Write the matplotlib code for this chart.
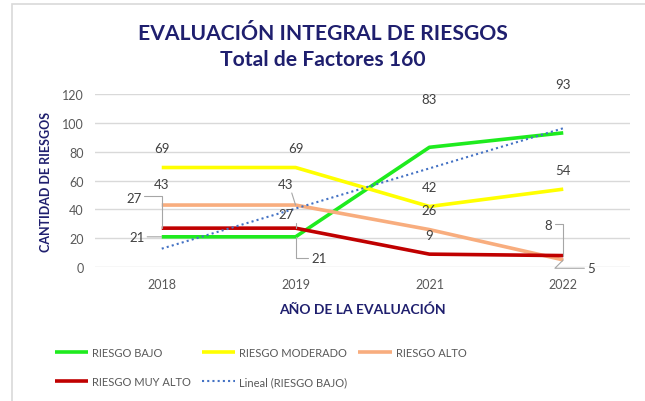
import numpy as np
import matplotlib
matplotlib.use('Agg')
import matplotlib.pyplot as plt
from matplotlib.patches import Rectangle

plt.rcParams['font.family'] = ['Lato', 'DejaVu Sans']

# Data
years = ['2018', '2019', '2021', '2022']
riesgo_bajo = [21, 21, 83, 93]
riesgo_moderado = [69, 69, 42, 54]
riesgo_alto = [43, 43, 26, 5]
riesgo_muy_alto = [27, 27, 9, 8]

navy = '#1F1F6E'
tick_gray = '#595959'
leader_gray = '#A6A6A6'

fig = plt.figure(figsize=(6.45, 4.02), dpi=100)
fig.patch.set_facecolor('white')
fig.patches.append(Rectangle((12 / 645, -0.05), 1.0, 1.0 - 5 / 402 + 0.05,
                             transform=fig.transFigure, fill=False,
                             edgecolor='#D9D9D9', lw=1.2))

ax = fig.add_axes([0.147, 0.333, 0.83, 0.431])
x = np.arange(len(years))

series = [
    ('RIESGO BAJO', riesgo_bajo, '#1EEB1E'),
    ('RIESGO MODERADO', riesgo_moderado, '#FFFF00'),
    ('RIESGO ALTO', riesgo_alto, '#F8AD7E'),
    ('RIESGO MUY ALTO', riesgo_muy_alto, '#C00000'),
]
handles = {}
for name, vals, col in series:
    ln, = ax.plot(x, vals, color=col, lw=2.6, label=name, solid_capstyle='butt', zorder=3)
    handles[name] = ln

# linear trend of RIESGO BAJO
coef = np.polyfit(x + 1, riesgo_bajo, 1)
trend = np.polyval(coef, x + 1)
tr, = ax.plot(x, trend, color='#4472C4', lw=1.5, ls=(0, (1, 1.5)), label='Lineal (RIESGO BAJO)', zorder=4)

ax.set_xlim(-0.5, 3.5)
ax.set_ylim(0, 120)
ax.set_yticks(range(0, 121, 20))
ax.set_xticks(x)
ax.set_xticklabels(years)
ax.grid(axis='y', color='#D9D9D9', lw=1)
ax.set_axisbelow(True)
for s in ax.spines.values():
    s.set_visible(False)
ax.tick_params(length=0, colors=tick_gray, labelsize=9, pad=8)

# data labels: offsets in points (dx, dy), leader style
def label(i, vals, dx, dy, conn=None, relpos=(0.5, 0.5)):
    kw = dict(textcoords='offset points', ha='center', va='center',
              fontsize=9.5, color='#404040', zorder=5)
    if conn is not None:
        kw['arrowprops'] = dict(arrowstyle='-', color=leader_gray, lw=0.8,
                                shrinkA=0, shrinkB=0, connectionstyle=conn,
                                relpos=relpos)
    ax.annotate(str(vals[i]), (x[i], vals[i]), xytext=(dx, dy), **kw)

ang = 'angle,angleA=0,angleB=90,rad=0'
# RIESGO BAJO
label(0, riesgo_bajo, -18, 0, 'arc3', (1.15, 0.5))
label(1, riesgo_bajo, 17, -15, ang, (-0.2, 0.5))
label(2, riesgo_bajo, 0, 35)
label(3, riesgo_bajo, 0, 35)
# RIESGO MODERADO
for i in range(4):
    label(i, riesgo_moderado, 0, 14)
# RIESGO ALTO
label(0, riesgo_alto, 0, 15)
label(1, riesgo_alto, -7, 15, 'arc3', (0.8, 0.1))
label(2, riesgo_alto, 0, 14)
label(3, riesgo_alto, 20, -6, 'angle,angleA=0,angleB=45,rad=0', (-0.2, 0.5))
# RIESGO MUY ALTO
label(0, riesgo_muy_alto, -20, 22, ang, (1.15, 0.6))
label(1, riesgo_muy_alto, -7, 10, ang, (1.1, 0.7))
label(2, riesgo_muy_alto, 0, 14)
label(3, riesgo_muy_alto, -11, 22, ang, (1.2, 0.6))

ax.set_ylabel('CANTIDAD DE RIESGOS', color=navy, fontweight='bold', fontsize=9, labelpad=7)
ax.set_xlabel('AÑO DE LA EVALUACIÓN', color=navy, fontweight='bold', fontsize=10, labelpad=9)

fig.text(0.5, 0.916, 'EVALUACIÓN INTEGRAL DE RIESGOS', ha='center', va='center',
         fontsize=15.2, fontweight='bold', color=navy)
fig.text(0.5, 0.85, 'Total de Factores 160', ha='center', va='center',
         fontsize=15.2, fontweight='bold', color=navy)

order = ['RIESGO BAJO', 'RIESGO MUY ALTO', 'RIESGO MODERADO', None, 'RIESGO ALTO']
hs = [handles[n] if n else tr for n in order]
fig.legend(hs, [h.get_label() for h in hs], ncol=3, loc='upper left',
           bbox_to_anchor=(0.078, 0.145), bbox_transform=fig.transFigure,
           frameon=False, fontsize=8, handlelength=3.0, handletextpad=0.35,
           columnspacing=1.0, labelspacing=1.6, labelcolor=tick_gray,
           borderaxespad=0)

fig.savefig('out.png', dpi=100)
